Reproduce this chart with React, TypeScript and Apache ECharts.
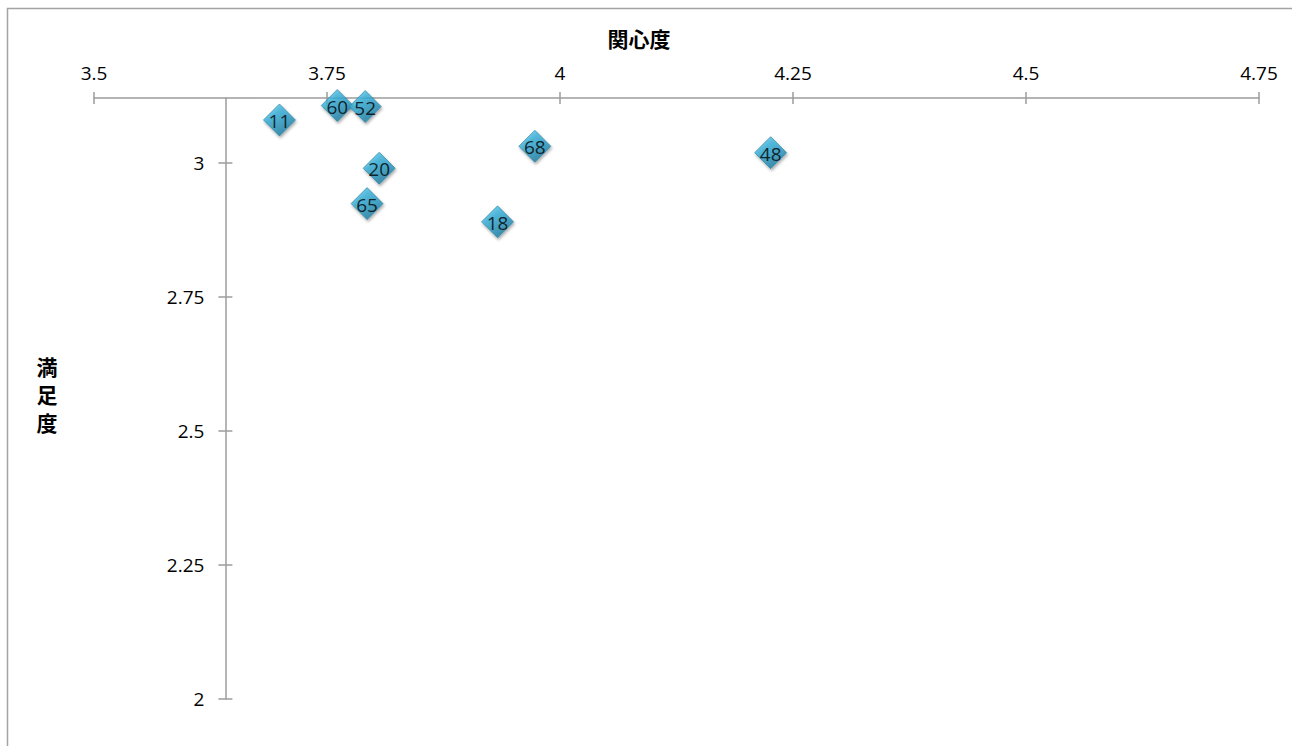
import React, { useEffect, useRef } from "react";
import * as echarts from "echarts";

// Survey items: id, interest (関心度) and satisfaction (満足度)
const itemIds = ["11", "60", "52", "20", "65", "18", "68", "48"];
const interest = [3.699, 3.761, 3.791, 3.806, 3.793, 3.933, 3.973, 4.226];
const satisfaction = [3.08, 3.107, 3.105, 2.99, 2.924, 2.89, 3.031, 3.019];

// Axis settings
const xMin = 3.5;
const xMax = 4.75;
const xStep = 0.25;
const yMin = 2;
const yMax = 3.121;
const yStep = 0.25;
const yTickValues = [2, 2.25, 2.5, 2.75, 3];
const yAxisCrossesAt = 3.641; // the vertical axis is drawn at this interest value

const xTitle = "関心度";
const yTitle = "満足度";

const W = 1292;
const H = 746;
const GRID = { left: 94, right: 33, top: 98, bottom: 47 };

const labelFont = "'Open Sans', 'Liberation Sans', sans-serif";
const cjkFont = "'Noto Sans CJK JP', sans-serif";
const axisGray = "#9c9c9c";

export default function App() {
  const ref = useRef<HTMLDivElement>(null);

  useEffect(() => {
    if (!ref.current) return;
    const chart = echarts.init(ref.current, undefined, { renderer: "svg" });

    const gridWidth = W - GRID.left - GRID.right;
    const yAxisOffset = -((yAxisCrossesAt - xMin) / (xMax - xMin)) * gridWidth;

    const xCommon = {
      type: "value" as const,
      position: "top" as const,
      min: xMin,
      max: xMax,
      interval: xStep,
      splitLine: { show: false },
    };
    const yCommon = {
      type: "value" as const,
      position: "left" as const,
      min: yMin,
      max: yMax,
      interval: yStep,
      offset: yAxisOffset,
      splitLine: { show: false },
    };

    chart.setOption({
      animation: false,
      backgroundColor: "#ffffff",
      grid: { ...GRID, containLabel: false },
      xAxis: [
        {
          ...xCommon,
          axisLine: { show: true, lineStyle: { color: axisGray, width: 1.5 } },
          axisTick: { show: true, inside: false, length: 6, lineStyle: { color: axisGray, width: 1.5 } },
          axisLabel: {
            show: true,
            margin: 16,
            color: "#000",
            fontSize: 19,
            fontFamily: labelFont,
            formatter: (v: number) => String(v),
          },
        },
        {
          ...xCommon,
          axisLine: { show: false },
          axisTick: { show: true, inside: true, length: 6, lineStyle: { color: axisGray, width: 1.5 } },
          axisLabel: { show: false },
        },
      ],
      yAxis: [
        {
          ...yCommon,
          axisLine: { show: true, lineStyle: { color: axisGray, width: 1.5 } },
          axisTick: {
            show: true,
            inside: false,
            length: 7,
            customValues: yTickValues,
            lineStyle: { color: axisGray, width: 1.5 },
          },
          axisLabel: {
            show: true,
            margin: 21,
            color: "#000",
            fontSize: 19,
            fontFamily: labelFont,
            customValues: yTickValues,
            formatter: (v: number) => String(v),
          },
        },
        {
          ...yCommon,
          axisLine: { show: false },
          axisTick: {
            show: true,
            inside: true,
            length: 7,
            customValues: yTickValues,
            lineStyle: { color: axisGray, width: 1.5 },
          },
          axisLabel: { show: false },
        },
      ],
      graphic: [
        {
          type: "rect",
          silent: true,
          shape: { x: 7.5, y: 8.5, width: W + 40, height: H + 40 },
          style: { fill: "none", stroke: "#a3a3a3", lineWidth: 1.5 },
        },
        {
          type: "text",
          x: 639,
          y: 38,
          style: {
            text: xTitle,
            fill: "#000",
            font: `bold 21px ${cjkFont}`,
            align: "center",
            verticalAlign: "middle",
          },
        },
        {
          type: "text",
          x: 47,
          y: 394,
          style: {
            text: yTitle.split("").join("\n"),
            fill: "#000",
            font: `bold 21px ${cjkFont}`,
            lineHeight: 28,
            align: "center",
            verticalAlign: "middle",
          },
        },
      ],
      series: [
        {
          type: "scatter",
          xAxisIndex: 0,
          yAxisIndex: 0,
          symbol: "diamond",
          symbolSize: 32,
          data: itemIds.map((id, i) => ({ name: id, value: [interest[i], satisfaction[i]] })),
          itemStyle: {
            color: new echarts.graphic.LinearGradient(0, 0, 0.6, 1, [
              { offset: 0, color: "#5ccdf0" },
              { offset: 0.45, color: "#34acd6" },
              { offset: 1, color: "#1c7a9e" },
            ]),
            borderColor: "#237f9f",
            borderWidth: 0.8,
            shadowColor: "rgba(0,0,0,0.4)",
            shadowBlur: 3,
            shadowOffsetX: 1,
            shadowOffsetY: 2,
          },
          label: {
            show: true,
            position: "inside",
            formatter: (p: any) => p.name,
            color: "#000",
            fontSize: 19,
            fontFamily: labelFont,
            offset: [0, 1],
          },
          z: 5,
        },
      ],
    });

    return () => chart.dispose();
  }, []);

  return (
    <div
      ref={ref}
      style={{ position: "absolute", left: 0, top: 0, width: W, height: H }}
    />
  );
}
